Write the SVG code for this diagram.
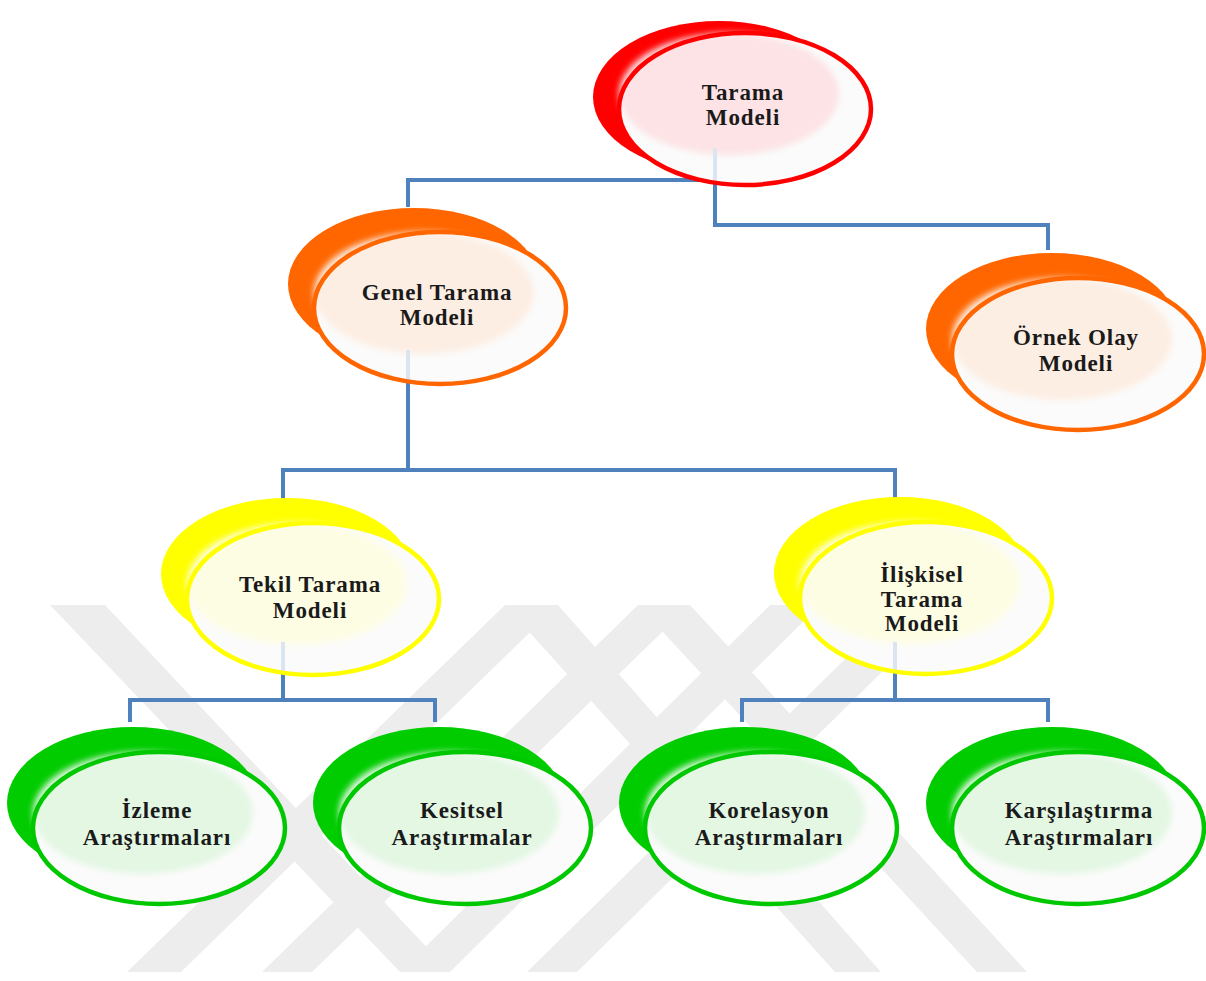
<svg xmlns="http://www.w3.org/2000/svg" width="1206" height="981" viewBox="0 0 1206 981">
<style>
.t{font-family:"Liberation Serif","Times New Roman",serif;font-weight:bold;font-size:23px;fill:#1a1a1a;text-anchor:middle;letter-spacing:0.9px}
.c{fill:none;stroke:#4f81bd;stroke-width:4}
.ghost{fill:none;stroke:#dbe5f1;stroke-width:4}
.wm{fill:#ededed}
.fr{fill:#fbfbfb}
.st{fill:none;stroke-width:4.5}
.in{filter:url(#soft)}
.red .bk{fill:#ff0000}.red .st{stroke:#ff0000}.red .in{fill:#fde3e5}
.org .bk{fill:#ff6600}.org .st{stroke:#ff6600}.org .in{fill:#fdeee3}
.yel .bk{fill:#ffff00}.yel .st{stroke:#ffff00}.yel .in{fill:#fdfde4}
.grn .bk{fill:#00cc00}.grn .st{stroke:#00c800}.grn .in{fill:#e3f7e3}
</style>
<defs>
<filter id="soft" x="-10%" y="-10%" width="120%" height="120%"><feGaussianBlur stdDeviation="3"/></filter>
</defs>
<rect width="1206" height="981" fill="#ffffff"/>
<g id="watermark">
<polygon class="wm" points="50,605 105,605 450,972 400,972"/>
<polygon class="wm" points="505,605 558,605 181,972 127,972"/>
<polygon class="wm" points="638,605 690,605 312,972 262,972"/>
<polygon class="wm" points="770,605 820,605 450,972 400,972"/>
<polygon class="wm" points="900,605 950,605 577,972 527,972"/>
<polygon class="wm" points="505,605 558,605 881,972 835,972"/>
<polygon class="wm" points="638,605 690,605 1027,972 977,972"/>
</g>
<g id="connectors">
<path class="c" d="M715,160 V180 H408 V207"/>
<path class="c" d="M715,180 V225 H1048 V250"/>
<path class="c" d="M408,380 V470 M283,498 V470 H895 V498"/>
<path class="c" d="M283,670 V700 M130,722 V700 H435 V722"/>
<path class="c" d="M895,670 V700 M742,722 V700 H1048 V722"/>
</g>
<g id="n-tarama" class="red">
<ellipse class="bk" cx="719" cy="97" rx="126" ry="76"/>
<ellipse class="fr" cx="745" cy="109" rx="126" ry="76"/>
<ellipse class="in" cx="729" cy="94" rx="110" ry="61"/>
<line class="ghost" x1="715" y1="148" x2="715" y2="183"/>
<ellipse class="st" cx="745" cy="109" rx="126" ry="76"/>
<text class="t" x="743" y="100">Tarama</text>
<text class="t" x="743" y="125">Modeli</text>
</g>
<g id="n-genel" class="org">
<ellipse class="bk" cx="414" cy="284" rx="126" ry="76"/>
<ellipse class="fr" cx="440" cy="308" rx="126" ry="76"/>
<ellipse class="in" cx="424" cy="293" rx="110" ry="61"/>
<line class="ghost" x1="408" y1="350" x2="408" y2="382"/>
<ellipse class="st" cx="440" cy="308" rx="126" ry="76"/>
<text class="t" x="437" y="300">Genel Tarama</text>
<text class="t" x="437" y="325">Modeli</text>
</g>
<g id="n-ornek" class="org">
<ellipse class="bk" cx="1052" cy="329" rx="126" ry="76"/>
<ellipse class="fr" cx="1078" cy="354" rx="126" ry="76"/>
<ellipse class="in" cx="1062" cy="339" rx="110" ry="61"/>
<ellipse class="st" cx="1078" cy="354" rx="126" ry="76"/>
<text class="t" x="1076" y="345">Örnek Olay</text>
<text class="t" x="1076" y="371">Modeli</text>
</g>
<g id="n-tekil" class="yel">
<ellipse class="bk" cx="287" cy="574" rx="126" ry="76"/>
<ellipse class="fr" cx="313" cy="599" rx="126" ry="76"/>
<ellipse class="in" cx="297" cy="584" rx="110" ry="61"/>
<line class="ghost" x1="283" y1="642" x2="283" y2="673"/>
<ellipse class="st" cx="313" cy="599" rx="126" ry="76"/>
<text class="t" x="310" y="592">Tekil Tarama</text>
<text class="t" x="310" y="618">Modeli</text>
</g>
<g id="n-iliskisel" class="yel">
<ellipse class="bk" cx="900" cy="573" rx="126" ry="76"/>
<ellipse class="fr" cx="926" cy="598" rx="126" ry="76"/>
<ellipse class="in" cx="910" cy="583" rx="110" ry="61"/>
<line class="ghost" x1="895" y1="642" x2="895" y2="672"/>
<ellipse class="st" cx="926" cy="598" rx="126" ry="76"/>
<text class="t" x="922" y="582">İlişkisel</text>
<text class="t" x="922" y="607">Tarama</text>
<text class="t" x="922" y="631">Modeli</text>
</g>
<g id="n-izleme" class="grn">
<ellipse class="bk" cx="133" cy="803" rx="126" ry="76"/>
<ellipse class="fr" cx="159" cy="828" rx="126" ry="76"/>
<ellipse class="in" cx="143" cy="813" rx="110" ry="61"/>
<ellipse class="st" cx="159" cy="828" rx="126" ry="76"/>
<text class="t" x="157" y="818">İzleme</text>
<text class="t" x="157" y="845">Araştırmaları</text>
</g>
<g id="n-kesitsel" class="grn">
<ellipse class="bk" cx="439" cy="803" rx="126" ry="76"/>
<ellipse class="fr" cx="465" cy="828" rx="126" ry="76"/>
<ellipse class="in" cx="449" cy="813" rx="110" ry="61"/>
<ellipse class="st" cx="465" cy="828" rx="126" ry="76"/>
<text class="t" x="462" y="818">Kesitsel</text>
<text class="t" x="462" y="845">Araştırmalar</text>
</g>
<g id="n-korelasyon" class="grn">
<ellipse class="bk" cx="745" cy="803" rx="126" ry="76"/>
<ellipse class="fr" cx="771" cy="828" rx="126" ry="76"/>
<ellipse class="in" cx="755" cy="813" rx="110" ry="61"/>
<ellipse class="st" cx="771" cy="828" rx="126" ry="76"/>
<text class="t" x="769" y="818">Korelasyon</text>
<text class="t" x="769" y="845">Araştırmaları</text>
</g>
<g id="n-karsilastirma" class="grn">
<ellipse class="bk" cx="1052" cy="803" rx="126" ry="76"/>
<ellipse class="fr" cx="1078" cy="828" rx="126" ry="76"/>
<ellipse class="in" cx="1062" cy="813" rx="110" ry="61"/>
<ellipse class="st" cx="1078" cy="828" rx="126" ry="76"/>
<text class="t" x="1079" y="818">Karşılaştırma</text>
<text class="t" x="1079" y="845">Araştırmaları</text>
</g>
</svg>
